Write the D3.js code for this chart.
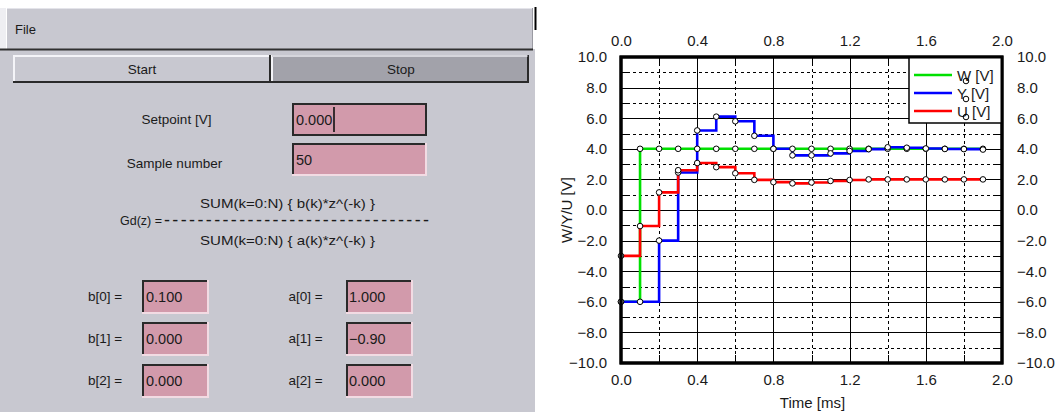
<!DOCTYPE html>
<html>
<head>
<meta charset="utf-8">
<script src="https://cdn.jsdelivr.net/npm/d3@7"></script>
<style>
  html, body { margin: 0; padding: 0; background: #ffffff; }
  svg { display: block; }
  text { font-family: "Liberation Sans", Arial, Helvetica, sans-serif; fill: #1a1a1a; }
</style>
</head>
<body>
<svg id="chart" width="1058" height="412"></svg>
<script>
// ---------------- DATA ----------------
const times = [0.0, 0.1, 0.2, 0.3, 0.4, 0.5, 0.6, 0.7, 0.8, 0.9, 1.0, 1.1, 1.2, 1.3, 1.4, 1.5, 1.6, 1.7, 1.8, 1.9];
const seriesW = [-6, 4, 4, 4, 4, 4, 4, 4, 4, 4, 4, 4, 4, 4, 4, 4, 4, 4, 4, 4];
const seriesY = [-6, -6, -2, 2.45, 5.2, 6.1, 5.8, 4.85, 4.0, 3.57, 3.57, 3.7, 3.86, 3.98, 4.1, 4.07, 4.02, 3.99, 3.98, 3.95];
const seriesU = [-3, -1.05, 1.15, 2.6, 3.07, 2.8, 2.4, 1.97, 1.82, 1.74, 1.8, 1.9, 1.96, 2.0, 2.0, 2.0, 2.0, 2.0, 2.0, 2.0];
const seriesNames = ["W [V]", "Y [V]", "U [V]"];
const seriesColors = ["#00e000", "#0000ff", "#ff0000"];
const xTickValues = [0.0, 0.4, 0.8, 1.2, 1.6, 2.0];
const xMinorValues = [0.2, 0.6, 1.0, 1.4, 1.8];
const yTickValues = [-10, -8, -6, -4, -2, 0, 2, 4, 6, 8, 10];
const yMinorValues = [-9, -7, -5, -3, -1, 1, 3, 5, 7, 9];
const xTitle = "Time [ms]";
const yTitle = "W/Y/U [V]";

// GUI content
const menuLabel = "File";
const buttonLabels = ["Start", "Stop"];
const setpointLabel = "Setpoint [V]", setpointValue = "0.000";
const sampleLabel = "Sample number", sampleValue = "50";
const formulaNum = "SUM(k=0:N) { b(k)*z^(-k) }";
const formulaDen = "SUM(k=0:N) { a(k)*z^(-k) }";
const formulaLhs = "Gd(z) =";
const bLabels = ["b[0] =", "b[1] =", "b[2] ="];
const bValues = ["0.100", "0.000", "0.000"];
const aLabels = ["a[0] =", "a[1] =", "a[2] ="];
const aValues = ["1.000", "\u22120.90", "0.000"];

// ---------------- SETUP ----------------
const svg = d3.select("#chart");
svg.append("rect").attr("width", 1058).attr("height", 412).attr("fill", "#ffffff");

const PANEL = "#c8c8d0", PINK = "#d29aab", DARK = "#2a2a2a";

// ---------- Left GUI panel ----------
const gui = svg.append("g");
gui.append("rect").attr("x", 0).attr("y", 49).attr("width", 535).attr("height", 363).attr("fill", PANEL);
// menubar
gui.append("rect").attr("x", 0).attr("y", 8).attr("width", 6).attr("height", 41).attr("fill", "#eeeef2");
gui.append("rect").attr("x", 6).attr("y", 8).attr("width", 527).attr("height", 41).attr("fill", PANEL);
gui.append("line").attr("x1", 6).attr("x2", 533).attr("y1", 8.5).attr("y2", 8.5).attr("stroke", "#e4e4ea");
gui.append("line").attr("x1", 6.5).attr("x2", 6.5).attr("y1", 8).attr("y2", 49).attr("stroke", "#ffffff");
gui.append("line").attr("x1", 532.5).attr("x2", 532.5).attr("y1", 8).attr("y2", 49).attr("stroke", "#9a9aa2");
gui.append("line").attr("x1", 0).attr("x2", 533).attr("y1", 49.5).attr("y2", 49.5).attr("stroke", "#303030").attr("stroke-width", 2);
gui.append("line").attr("x1", 535.5).attr("x2", 535.5).attr("y1", 7).attr("y2", 30).attr("stroke", "#000").attr("stroke-width", 2);
gui.append("text").attr("x", 15).attr("y", 34).attr("font-size", 13).text(menuLabel);

// buttons
function bevelBox(g, x, y, w, h, fill, sunken, focused) {
  g.append("rect").attr("x", x).attr("y", y).attr("width", w).attr("height", h).attr("fill", fill);
  const light = sunken ? "#f2dbe3" : "#f4f4f8";
  const dark = DARK;
  const tl = sunken ? dark : light, br = sunken ? light : dark;
  g.append("path").attr("d", `M${x + 1},${y + h} L${x + 1},${y + 1} L${x + w},${y + 1}`)
    .attr("fill", "none").attr("stroke", focused ? dark : tl).attr("stroke-width", 2);
  g.append("path").attr("d", `M${x},${y + h - 1} L${x + w - 1},${y + h - 1} L${x + w - 1},${y}`)
    .attr("fill", "none").attr("stroke", focused ? dark : br).attr("stroke-width", 2);
}
bevelBox(gui, 13, 55, 258, 28, PANEL, false, false);
bevelBox(gui, 271, 55, 258, 28, "#a2a2aa", false, false);
gui.append("line").attr("x1", 272).attr("x2", 528).attr("y1", 56).attr("y2", 56).attr("stroke", "#b8b8c0");
gui.append("text").attr("x", 142).attr("y", 74).attr("text-anchor", "middle").attr("font-size", 13.5).text(buttonLabels[0]);
gui.append("text").attr("x", 401).attr("y", 74).attr("text-anchor", "middle").attr("font-size", 13.5).text(buttonLabels[1]);

// setpoint & sample number
gui.append("text").attr("x", 176.5).attr("y", 124).attr("text-anchor", "middle").attr("font-size", 13.5).text(setpointLabel);
bevelBox(gui, 292, 103, 135, 33, PINK, true, true);
gui.append("text").attr("x", 296).attr("y", 125).attr("font-size", 14.5).text(setpointValue);
gui.append("line").attr("x1", 334).attr("x2", 334).attr("y1", 107).attr("y2", 132).attr("stroke", "#111").attr("stroke-width", 1.6);

gui.append("text").attr("x", 174.5).attr("y", 168).attr("text-anchor", "middle").attr("font-size", 13.5).text(sampleLabel);
bevelBox(gui, 292, 143, 135, 33, PINK, true, false);
gui.append("text").attr("x", 296).attr("y", 165).attr("font-size", 14.5).text(sampleValue);

// formula
gui.append("text").attr("x", 200).attr("y", 208).attr("font-size", 13.5)
  .attr("textLength", 175).attr("lengthAdjust", "spacingAndGlyphs").text(formulaNum);
gui.append("text").attr("x", 120).attr("y", 225).attr("font-size", 12.5).text(formulaLhs);
gui.append("text").attr("x", 164).attr("y", 226).attr("font-size", 18)
  .attr("textLength", 265).attr("lengthAdjust", "spacing").text("-".repeat(32));
gui.append("text").attr("x", 200).attr("y", 245).attr("font-size", 13.5)
  .attr("textLength", 175).attr("lengthAdjust", "spacingAndGlyphs").text(formulaDen);

// coefficient fields
const rowTops = [280, 322, 364];
rowTops.forEach((yt, i) => {
  gui.append("text").attr("x", 88).attr("y", yt + 21).attr("font-size", 13.5).text(bLabels[i]);
  bevelBox(gui, 142, yt, 67, 34, PINK, true, false);
  gui.append("text").attr("x", 146).attr("y", yt + 22).attr("font-size", 14.5).text(bValues[i]);
  gui.append("text").attr("x", 288.5).attr("y", yt + 21).attr("font-size", 13.5).text(aLabels[i]);
  bevelBox(gui, 346, yt, 67, 34, PINK, true, false);
  gui.append("text").attr("x", 349).attr("y", yt + 22).attr("font-size", 14.5).text(aValues[i]);
});

// ---------------- CHART ----------------
const L = 621, R = 1002, T = 57, B = 363;
const x = d3.scaleLinear().domain([0, 2]).range([L, R]);
const y = d3.scaleLinear().domain([-10, 10]).range([B, T]);
const chart = svg.append("g");
chart.append("rect").attr("x", L).attr("y", T).attr("width", R - L).attr("height", B - T).attr("fill", "#fff");

// grid
const grid = chart.append("g").attr("shape-rendering", "crispEdges");
grid.selectAll(".gxs").data(xTickValues.slice(1, -1)).join("line")
  .attr("x1", d => Math.round(x(d)) + 0.5).attr("x2", d => Math.round(x(d)) + 0.5)
  .attr("y1", T).attr("y2", B).attr("stroke", "#000").attr("stroke-width", 1);
grid.selectAll(".gxd").data(xMinorValues).join("line")
  .attr("x1", d => Math.round(x(d)) + 0.5).attr("x2", d => Math.round(x(d)) + 0.5)
  .attr("y1", T).attr("y2", B).attr("stroke", "#000").attr("stroke-width", 1).attr("stroke-dasharray", "3,3");
grid.selectAll(".gys").data(yTickValues.slice(1, -1)).join("line")
  .attr("y1", d => Math.round(y(d)) + 0.5).attr("y2", d => Math.round(y(d)) + 0.5)
  .attr("x1", L).attr("x2", R).attr("stroke", "#000").attr("stroke-width", 1);
grid.selectAll(".gyd").data(yMinorValues).join("line")
  .attr("y1", d => Math.round(y(d)) + 0.5).attr("y2", d => Math.round(y(d)) + 0.5)
  .attr("x1", L).attr("x2", R).attr("stroke", "#000").attr("stroke-width", 1).attr("stroke-dasharray", "3,3");
// minor ticks on edges
grid.selectAll(".tb").data(xMinorValues).join("line")
  .attr("x1", d => Math.round(x(d)) + 0.5).attr("x2", d => Math.round(x(d)) + 0.5)
  .attr("y1", B - 8).attr("y2", B).attr("stroke", "#000");
grid.selectAll(".tt").data(xMinorValues).join("line")
  .attr("x1", d => Math.round(x(d)) + 0.5).attr("x2", d => Math.round(x(d)) + 0.5)
  .attr("y1", T).attr("y2", T + 8).attr("stroke", "#000");
grid.selectAll(".tl").data(yMinorValues).join("line")
  .attr("y1", d => Math.round(y(d)) + 0.5).attr("y2", d => Math.round(y(d)) + 0.5)
  .attr("x1", L).attr("x2", L + 8).attr("stroke", "#000");
grid.selectAll(".tr").data(yMinorValues).join("line")
  .attr("y1", d => Math.round(y(d)) + 0.5).attr("y2", d => Math.round(y(d)) + 0.5)
  .attr("x1", R - 8).attr("x2", R).attr("stroke", "#000");

// series
const allSeries = [seriesW, seriesY, seriesU];
const lineGen = d3.line().x(d => x(d[0])).y(d => y(d[1])).curve(d3.curveStepAfter);
allSeries.forEach((vals, i) => {
  const pts = times.map((t, k) => [t, vals[k]]);
  chart.append("path").datum(pts).attr("d", lineGen)
    .attr("fill", "none").attr("stroke", seriesColors[i]).attr("stroke-width", 2.6);
});
allSeries.forEach((vals) => {
  const pts = times.map((t, k) => [t, vals[k]]);
  chart.append("g").selectAll("circle").data(pts).join("circle")
    .attr("cx", d => x(d[0])).attr("cy", d => y(d[1])).attr("r", 2.8)
    .attr("fill", "#fff").attr("stroke", "#000").attr("stroke-width", 1);
});

// frame
chart.append("rect").attr("x", L).attr("y", T).attr("width", R - L).attr("height", B - T)
  .attr("fill", "none").attr("stroke", "#000").attr("stroke-width", 3);

// axes
const fmt = d => d3.format(".1f")(d).replace("-", "\u2212");
function styleAxis(g) {
  g.select(".domain").remove();
  g.selectAll(".tick line").remove();
  g.selectAll("text").attr("font-size", 15).attr("fill", "#1a1a1a")
    .attr("font-family", "Liberation Sans, Arial, sans-serif");
}
chart.append("g").attr("transform", `translate(0,${T})`)
  .call(d3.axisTop(x).tickValues(xTickValues).tickFormat(fmt).tickSize(0).tickPadding(11)).call(styleAxis);
chart.append("g").attr("transform", `translate(0,${B})`)
  .call(d3.axisBottom(x).tickValues(xTickValues).tickFormat(fmt).tickSize(0).tickPadding(11)).call(styleAxis);
chart.append("g").attr("transform", `translate(${L},0)`)
  .call(d3.axisLeft(y).tickValues(yTickValues).tickFormat(fmt).tickSize(0).tickPadding(14)).call(styleAxis);
chart.append("g").attr("transform", `translate(${R},0)`)
  .call(d3.axisRight(y).tickValues(yTickValues).tickFormat(fmt).tickSize(0).tickPadding(15)).call(styleAxis);

// axis titles
chart.append("text").attr("x", (L + R) / 2 + 1).attr("y", 408).attr("text-anchor", "middle")
  .attr("font-size", 15).text(xTitle);
chart.append("text").attr("transform", `translate(566,${(T + B) / 2}) rotate(-90)`)
  .attr("text-anchor", "middle").attr("dominant-baseline", "central").attr("font-size", 15).text(yTitle);

// legend
const lg = chart.append("g");
lg.append("rect").attr("x", 909).attr("y", T).attr("width", R - 909).attr("height", 66)
  .attr("fill", "#fff").attr("stroke", "#000").attr("stroke-width", 1.5);
const legendY = [75, 93, 111];
seriesNames.forEach((name, i) => {
  lg.append("line").attr("x1", 914).attr("x2", 952).attr("y1", legendY[i]).attr("y2", legendY[i])
    .attr("stroke", seriesColors[i]).attr("stroke-width", 2.6);
  lg.append("text").attr("x", 957).attr("y", legendY[i]).attr("dominant-baseline", "central")
    .attr("font-size", 15).text(name);
  lg.append("circle").attr("cx", 966).attr("cy", legendY[i] + 6).attr("r", 2.8)
    .attr("fill", "none").attr("stroke", "#000").attr("stroke-width", 1);
});
// frame re-draw on top of legend
chart.append("rect").attr("x", L).attr("y", T).attr("width", R - L).attr("height", B - T)
  .attr("fill", "none").attr("stroke", "#000").attr("stroke-width", 3);
</script>
</body>
</html>
